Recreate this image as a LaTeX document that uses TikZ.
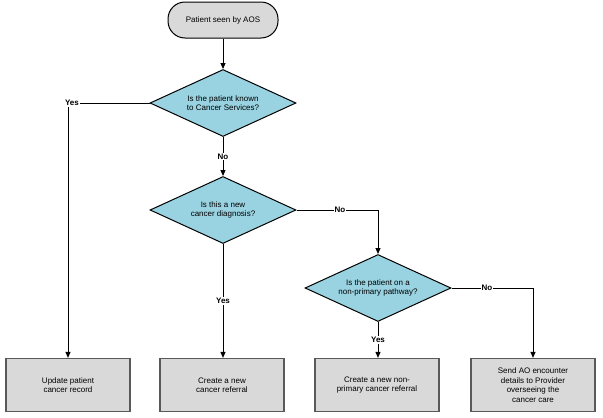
\documentclass[tikz,border=0pt]{standalone}
\usepackage{fontspec}
\setmainfont{Liberation Sans}
\usetikzlibrary{shapes.geometric,arrows.meta}
\begin{document}
\begin{tikzpicture}[x=1pt,y=-1pt,font=\fontsize{8}{9.5}\selectfont,
  dec/.style={diamond,draw=black,line width=1pt,fill=cyan!35!gray!40!white,fill=dia,minimum width=146pt,minimum height=67pt,inner sep=0pt,align=center,aspect=2.2},
  box/.style={draw=gray!70!black,line width=1.2pt,fill=gray!30,minimum width=124pt,minimum height=53pt,align=center},
  lab/.style={fill=white,font=\fontsize{8}{9.5}\selectfont\bfseries,inner sep=1pt},
  arr/.style={line width=1pt,-{Triangle[length=6pt,width=5pt]}},
  ln/.style={line width=1pt}]
\definecolor{dia}{HTML}{99D3E1}
\useasboundingbox (0,0) rectangle (603,418);
\node[draw,line width=1pt,fill=gray!30,rounded corners=17pt,minimum width=110pt,minimum height=36pt] (start) at (223,20) {Patient seen by AOS};
\node[dec] (d1) at (223,103) {Is the patient known\\to Cancer Services?};
\node[dec] (d2) at (223,210) {Is this a new\\cancer diagnosis?};
\node[dec] (d3) at (378,288) {Is the patient on a\\non-primary pathway?};
\node[box] (b1) at (68,385) {Update patient\\cancer record};
\node[box] (b2) at (222,385) {Create a new\\cancer referral};
\node[box] (b3) at (377,385) {Create a new non-\\primary cancer referral};
\node[box] (b4) at (533,385) {Send AO encounter\\details to Provider\\overseeing the\\cancer care};
\draw[arr] (start) -- (d1);
\draw[arr] (d1) -- node[lab]{No} (d2);
\draw[arr] (d1.west) -- (68,103) coordinate (c1) -- (b1.north);
\node[lab] at (72,103) {Yes};
\draw[arr] (d2) -- node[lab,pos=0.5]{Yes} (b2.north -| d2);
\draw[arr] (d2.east) -- (378,210) coordinate(c2) -- (d3.north);
\node[lab] at (340,210) {No};
\draw[arr] (d3) -- node[lab]{Yes} (b3.north -| d3);
\draw[arr] (d3.east) -- (533,288) coordinate(c3) -- (b4.north);
\node[lab] at (487,288) {No};
\end{tikzpicture}
\end{document}
